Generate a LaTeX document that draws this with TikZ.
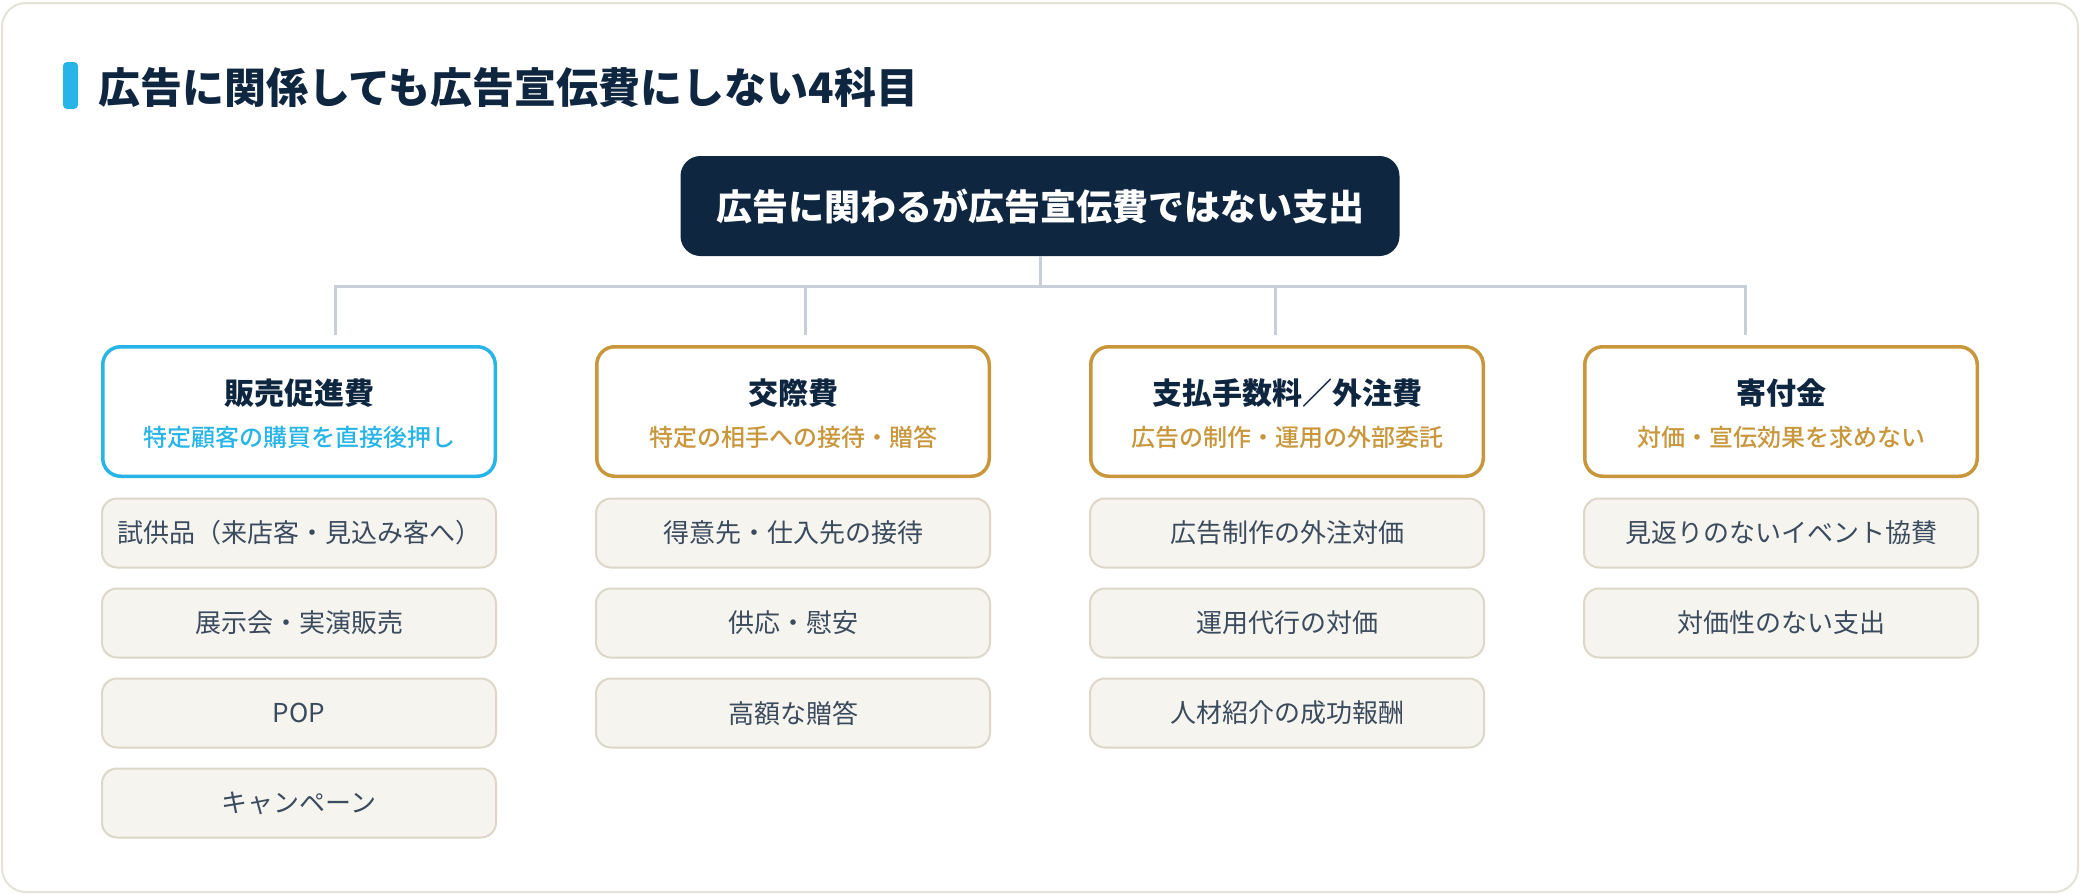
\documentclass[tikz,border=0pt]{standalone}
\usepackage{fontspec}
\setmainfont{Noto Sans CJK JP}
\IfFontExistsTF{Noto Sans CJK JP Black}{\newfontfamily\jpblack{Noto Sans CJK JP Black}}{\newfontfamily\jpblack{Noto Sans CJK JP}[FakeBold=2.5]}
\IfFontExistsTF{Noto Sans CJK JP Medium}{\newfontfamily\jpmed{Noto Sans CJK JP Medium}}{\newfontfamily\jpmed{Noto Sans CJK JP}[FakeBold=1.2]}
\definecolor{navy}{HTML}{0F2640}
\definecolor{accblue}{HTML}{27B5E7}
\definecolor{gold}{HTML}{C8963B}
\definecolor{itemfill}{HTML}{F6F4EF}
\definecolor{itemline}{HTML}{DCD7C6}
\definecolor{itemtext}{HTML}{3B4B5E}
\definecolor{connc}{HTML}{C9CFD9}
\definecolor{framec}{HTML}{E5E2D8}
\begin{document}
\begin{tikzpicture}[x=1pt,y=-1pt,
  frame/.style={draw=framec,line width=2pt,rounded corners=24pt,fill=white},
  topbox/.style={fill=navy,rounded corners=20pt,minimum width=719pt,minimum height=100pt,inner sep=0pt,text=white,font=\bfseries\fontsize{36}{40}\selectfont},
  colbox/.style={draw=#1,fill=white,line width=3.5pt,rounded corners=18pt,minimum width=392.5pt,minimum height=129.5pt,inner sep=0pt},
  coltitle/.style={inner sep=0pt,text=navy,font=\bfseries\fontsize{30}{34}\selectfont},
  colsub/.style={inner sep=0pt,text=#1,font=\jpmed\fontsize{24}{28}\selectfont},
  itembox/.style={draw=itemline,fill=itemfill,line width=2pt,rounded corners=15pt,minimum width=394pt,minimum height=69pt,inner sep=0pt,text=itemtext,font=\fontsize{26}{30}\selectfont},
  conn/.style={draw=connc,line width=3pt}
]
\useasboundingbox (0,0) rectangle (2080,894);
\fill[white] (0,0) rectangle (2080,894);
\draw[frame] (2,3) rectangle (2078,892);

% title
\fill[accblue,rounded corners=4pt] (63,62) rectangle (78,109);
\node[anchor=west,inner sep=0pt,text=navy,font=\jpblack\fontsize{42}{48}\selectfont] (title) at (98,88) {広告に関係しても広告宣伝費にしない4科目};

% top box
\node[topbox] (top) at (1040,206) {広告に関わるが広告宣伝費ではない支出};

% connectors
\coordinate (hub) at (1040,286);
\coordinate (b1) at (335,286);
\coordinate (b2) at (805,286);
\coordinate (b3) at (1275,286);
\coordinate (b4) at (1745,286);
\coordinate (e1) at (335,335);
\coordinate (e2) at (805,335);
\coordinate (e3) at (1275,335);
\coordinate (e4) at (1745,335);
\draw[conn] (top.south) -- (hub);
\draw[conn,line cap=rect] (b1) -- (b4);
\draw[conn] (b1) -- (e1);
\draw[conn] (b2) -- (e2);
\draw[conn] (b3) -- (e3);
\draw[conn] (b4) -- (e4);

% column 1
\node[colbox=accblue] (c1) at (299,411.5) {};
\node[coltitle] (c1t) at (299,393) {販売促進費};
\node[colsub=accblue] (c1s) at (299,437) {特定顧客の購買を直接後押し};
\node[itembox] (c1a) at (299,533) {試供品（来店客・見込み客へ）};
\node[itembox] (c1b) at (299,623) {展示会・実演販売};
\node[itembox] (c1c) at (299,713) {POP};
\node[itembox] (c1d) at (299,803) {キャンペーン};

% column 2
\node[colbox=gold] (c2) at (793,411.5) {};
\node[coltitle] (c2t) at (793,393) {交際費};
\node[colsub=gold] (c2s) at (793,437) {特定の相手への接待・贈答};
\node[itembox] (c2a) at (793,533) {得意先・仕入先の接待};
\node[itembox] (c2b) at (793,623) {供応・慰安};
\node[itembox] (c2c) at (793,713) {高額な贈答};

% column 3
\node[colbox=gold] (c3) at (1287,411.5) {};
\node[coltitle] (c3t) at (1287,393) {支払手数料／外注費};
\node[colsub=gold] (c3s) at (1287,437) {広告の制作・運用の外部委託};
\node[itembox] (c3a) at (1287,533) {広告制作の外注対価};
\node[itembox] (c3b) at (1287,623) {運用代行の対価};
\node[itembox] (c3c) at (1287,713) {人材紹介の成功報酬};

% column 4
\node[colbox=gold] (c4) at (1781,411.5) {};
\node[coltitle] (c4t) at (1781,393) {寄付金};
\node[colsub=gold] (c4s) at (1781,437) {対価・宣伝効果を求めない};
\node[itembox] (c4a) at (1781,533) {見返りのないイベント協賛};
\node[itembox] (c4b) at (1781,623) {対価性のない支出};
\end{tikzpicture}
\end{document}
